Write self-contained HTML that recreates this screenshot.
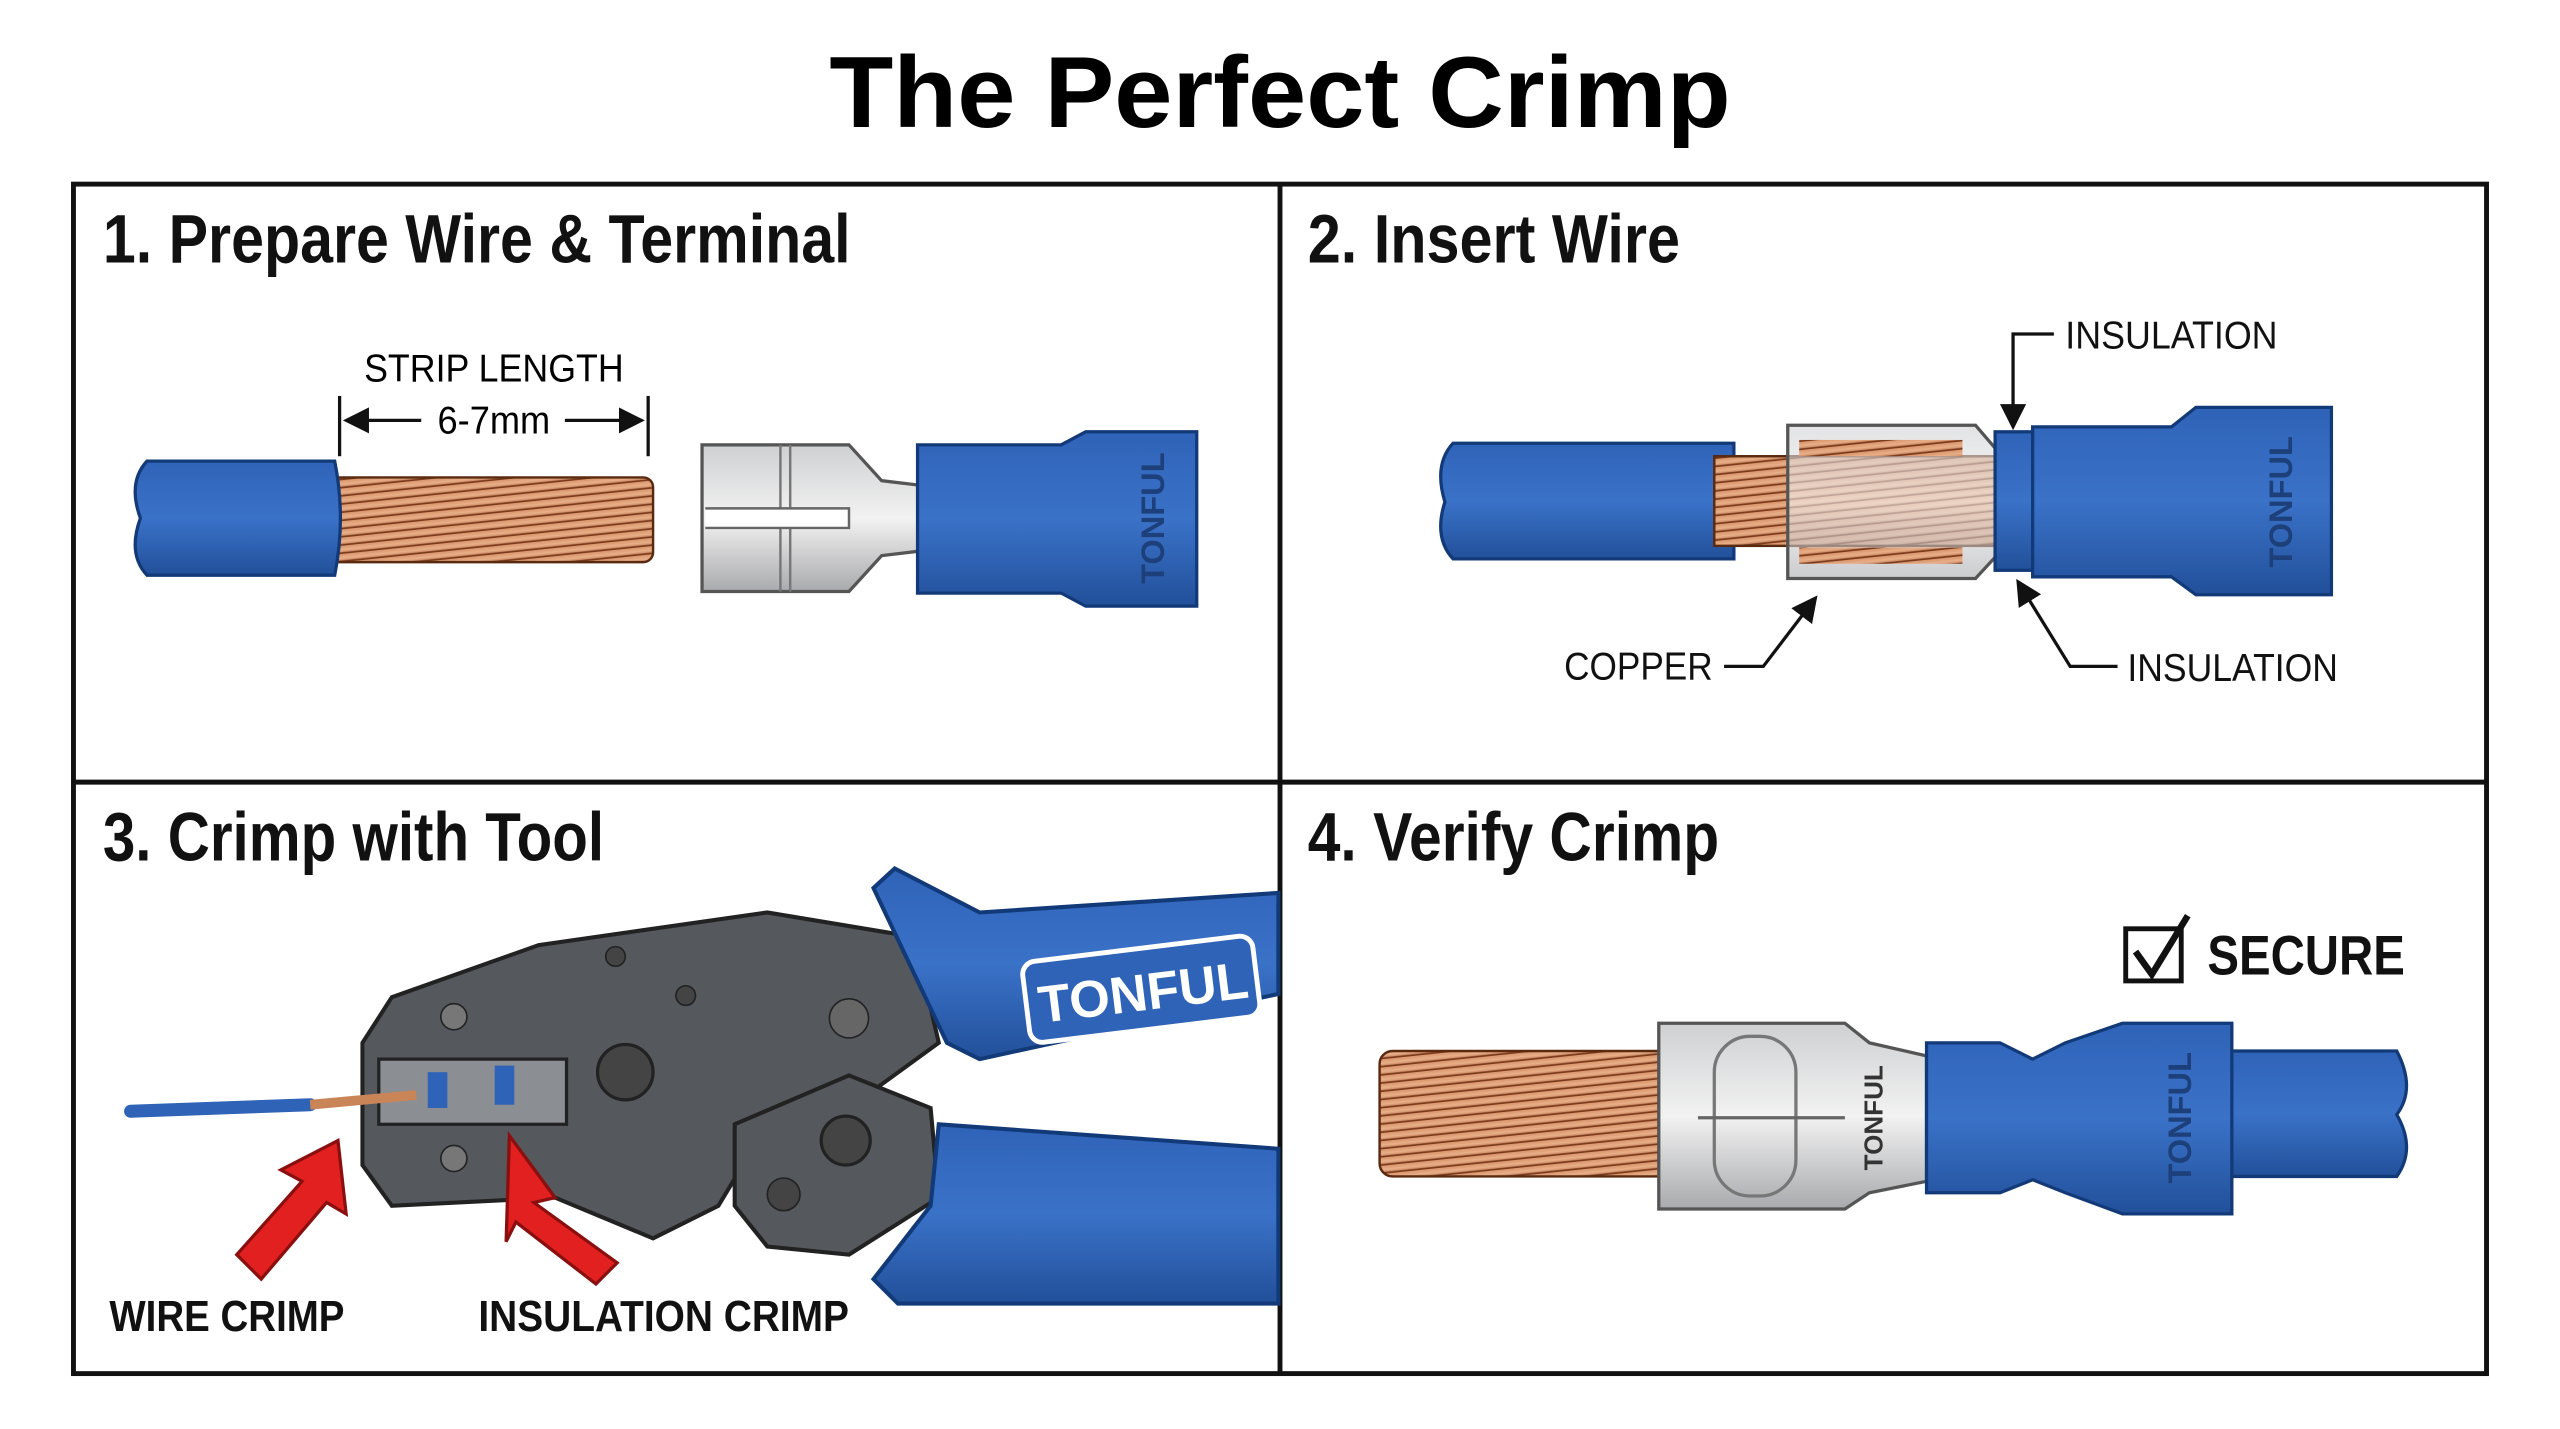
<!DOCTYPE html>
<html><head><meta charset="utf-8"><style>
html,body{margin:0;padding:0;background:#fff;}
svg{display:block;}
text{font-family:"Liberation Sans",sans-serif;}
</style></head><body>
<svg width="2560" height="1429" viewBox="0 0 1568 877" preserveAspectRatio="none" xmlns="http://www.w3.org/2000/svg">
<defs>
<linearGradient id="blue" x1="0" y1="0" x2="0" y2="1"><stop offset="0" stop-color="#2f63b8"/><stop offset="0.5" stop-color="#3a72c8"/><stop offset="1" stop-color="#22509a"/></linearGradient>
<linearGradient id="cu" x1="0" y1="0" x2="0" y2="1"><stop offset="0" stop-color="#d9946a"/><stop offset="0.5" stop-color="#e8b08a"/><stop offset="1" stop-color="#b86e45"/></linearGradient>
<linearGradient id="ag" x1="0" y1="0" x2="0" y2="1"><stop offset="0" stop-color="#cfd0d2"/><stop offset="0.5" stop-color="#f2f2f2"/><stop offset="1" stop-color="#a9aaad"/></linearGradient>
<pattern id="strand" width="16" height="5" patternUnits="userSpaceOnUse" patternTransform="rotate(-6)"><rect width="16" height="5" fill="url(#cu)"/><line x1="0" y1="4.5" x2="16" y2="4.5" stroke="#7a3a1c" stroke-width="1"/></pattern>
<marker id="ah" markerWidth="8" markerHeight="8" refX="7" refY="4" orient="auto"><path d="M0,0 L8,4 L0,8 z" fill="#111"/></marker>
</defs>
<rect width="1568" height="877" fill="#fff"/>
<text x="508" y="78" font-weight="bold" font-size="62" textLength="552" lengthAdjust="spacingAndGlyphs">The Perfect Crimp</text>
<rect x="45" y="113" width="1478" height="730" fill="none" stroke="#111" stroke-width="3"/>
<line x1="784" y1="113" x2="784" y2="843" stroke="#111" stroke-width="3"/>
<line x1="45" y1="480" x2="1523" y2="480" stroke="#111" stroke-width="3"/>
<g font-weight="bold" font-size="42" fill="#111">
<text x="63" y="161" textLength="458" lengthAdjust="spacingAndGlyphs">1. Prepare Wire &amp; Terminal</text>
<text x="801" y="161" textLength="228" lengthAdjust="spacingAndGlyphs">2. Insert Wire</text>
<text x="63" y="528" textLength="307" lengthAdjust="spacingAndGlyphs">3. Crimp with Tool</text>
<text x="801" y="528" textLength="252" lengthAdjust="spacingAndGlyphs">4. Verify Crimp</text>
</g>
<!-- Panel 1 -->
<text x="223" y="234" font-size="24" textLength="159" lengthAdjust="spacingAndGlyphs">STRIP LENGTH</text>
<text x="268" y="266" font-size="24" textLength="69" lengthAdjust="spacingAndGlyphs">6-7mm</text>
<line x1="208" y1="243" x2="208" y2="280" stroke="#111" stroke-width="2"/>
<line x1="397" y1="243" x2="397" y2="280" stroke="#111" stroke-width="2"/>
<line x1="258" y1="258" x2="212" y2="258" stroke="#111" stroke-width="2" marker-end="url(#ah)"/>
<line x1="346" y1="258" x2="393" y2="258" stroke="#111" stroke-width="2" marker-end="url(#ah)"/>
<rect x="200" y="293" width="200" height="52" fill="url(#strand)" stroke="#5a2a10" stroke-width="1.5" rx="6"/>
<path d="M90,283 L205,283 Q212,318 205,353 L90,353 Q78,340 86,318 Q78,296 90,283 z" fill="url(#blue)" stroke="#123a78" stroke-width="2"/>
<path d="M430,273 L520,273 L540,295 L565,298 L565,338 L540,341 L520,363 L430,363 z" fill="url(#ag)" stroke="#555" stroke-width="2"/>
<line x1="478" y1="273" x2="478" y2="363" stroke="#777" stroke-width="1.5"/><line x1="484" y1="273" x2="484" y2="363" stroke="#777" stroke-width="1.5"/>
<path d="M432,312 L520,312 L520,324 L432,324" fill="#fff" stroke="#666" stroke-width="1.5"/>
<path d="M562,273 L650,273 L665,265 L733,265 L733,372 L665,372 L650,364 L562,364 z" fill="url(#blue)" stroke="#123a78" stroke-width="2"/>
<text transform="translate(713,318) rotate(-90)" font-size="20" font-weight="bold" fill="#1d3f7a" text-anchor="middle">TONFUL</text>
<!-- Panel 2 -->
<path d="M890,272 L1062,272 L1062,343 L890,343 Q878,330 885,308 Q878,285 890,272 z" fill="url(#blue)" stroke="#123a78" stroke-width="2"/>
<rect x="1050" y="280" width="175" height="55" fill="url(#strand)" stroke="#5a2a10" stroke-width="1.5"/>
<path d="M1095,261 L1210,261 L1222,275 L1222,342 L1210,355 L1095,355 z" fill="url(#ag)" fill-opacity="0.6" stroke="#555" stroke-width="2"/>
<rect x="1102" y="270" width="100" height="10" fill="url(#strand)"/><rect x="1102" y="336" width="100" height="10" fill="url(#strand)"/>
<rect x="1222" y="265" width="23" height="85" fill="url(#blue)" stroke="#123a78" stroke-width="2"/>
<path d="M1245,262 L1330,262 L1345,250 L1428,250 L1428,365 L1345,365 L1330,354 L1245,354 z" fill="url(#blue)" stroke="#123a78" stroke-width="2"/>
<text transform="translate(1404,308) rotate(-90)" font-size="20" font-weight="bold" fill="#1d3f7a" text-anchor="middle">TONFUL</text>
<g font-size="24" fill="#111">
<text x="1265" y="214" textLength="130" lengthAdjust="spacingAndGlyphs">INSULATION</text>
<text x="958" y="417" textLength="91" lengthAdjust="spacingAndGlyphs">COPPER</text>
<text x="1303" y="418" textLength="129" lengthAdjust="spacingAndGlyphs">INSULATION</text>
</g>
<polyline points="1258,205 1233,205 1233,262" fill="none" stroke="#111" stroke-width="2" marker-end="url(#ah)"/>
<polyline points="1056,409 1080,409 1112,367" fill="none" stroke="#111" stroke-width="2" marker-end="url(#ah)"/>
<polyline points="1297,409 1268,409 1236,357" fill="none" stroke="#111" stroke-width="2" marker-end="url(#ah)"/>
<!-- Panel 3 -->
<path d="M222,640 L240,612 L330,580 L470,560 L560,575 L575,640 L520,680 L470,690 L440,740 L400,760 L340,735 L240,740 L222,715 z" fill="#55585c" stroke="#222" stroke-width="2.5"/>
<path d="M450,690 L520,660 L570,680 L575,735 L520,770 L470,765 L450,740 z" fill="#55585c" stroke="#222" stroke-width="2.5"/>
<path d="M535,545 L548,533 L600,560 L783,548 L783,610 L600,650 L580,640 z" fill="url(#blue)" stroke="#123a78" stroke-width="2.5"/>
<rect x="628" y="582" width="142" height="50" rx="8" fill="#2f63b8" stroke="#fff" stroke-width="3" transform="rotate(-7 700 607)"/>
<text x="700" y="620" font-size="32" font-weight="bold" fill="#fff" text-anchor="middle" transform="rotate(-7 700 607)">TONFUL</text>
<path d="M575,690 L783,705 L783,800 L550,800 L535,785 L570,740 z" fill="url(#blue)" stroke="#123a78" stroke-width="2.5"/>
<rect x="232" y="650" width="115" height="40" fill="#8b8e92" stroke="#222" stroke-width="2"/>
<circle cx="383" cy="658" r="17" fill="#444" stroke="#222" stroke-width="2"/><circle cx="518" cy="700" r="15" fill="#444" stroke="#222" stroke-width="2"/>
<circle cx="480" cy="733" r="10" fill="#444" stroke="#222"/><circle cx="377" cy="587" r="6" fill="#444" stroke="#222"/><circle cx="420" cy="611" r="6" fill="#444" stroke="#222"/>
<circle cx="278" cy="624" r="8" fill="#777" stroke="#222"/><circle cx="278" cy="711" r="8" fill="#777" stroke="#222"/>
<circle cx="520" cy="625" r="12" fill="#666" stroke="#222"/>
<line x1="80" y1="682" x2="190" y2="678" stroke="#2f63b8" stroke-width="8" stroke-linecap="round"/>
<line x1="190" y1="678" x2="255" y2="672" stroke="#c98458" stroke-width="6"/>
<rect x="262" y="658" width="12" height="22" fill="#2f63b8"/><rect x="303" y="654" width="12" height="24" fill="#2f63b8"/>
<path d="M207,700 L212,745 L200,738 L160,785 L145,770 L185,725 L172,718 z" fill="#e32020" stroke="#8a0f0f" stroke-width="2"/>
<path d="M312,697 L340,735 L327,738 L378,775 L365,788 L316,750 L310,762 z" fill="#e32020" stroke="#8a0f0f" stroke-width="2"/>
<g font-size="27" font-weight="bold" fill="#111">
<text x="67" y="817" textLength="144" lengthAdjust="spacingAndGlyphs">WIRE CRIMP</text>
<text x="293" y="817" textLength="227" lengthAdjust="spacingAndGlyphs">INSULATION CRIMP</text>
</g>
<!-- Panel 4 -->
<rect x="1302" y="570" width="34" height="32" fill="none" stroke="#111" stroke-width="3"/>
<path d="M1308,584 L1318,598 L1340,562" fill="none" stroke="#111" stroke-width="4"/>
<text x="1352" y="598" font-size="34" font-weight="bold" fill="#111" textLength="121" lengthAdjust="spacingAndGlyphs">SECURE</text>
<rect x="845" y="645" width="180" height="77" rx="8" fill="url(#strand)" stroke="#5a2a10" stroke-width="1.5"/>
<path d="M1016,628 L1130,628 L1145,640 L1180,648 L1180,725 L1145,732 L1130,742 L1016,742 z" fill="url(#ag)" stroke="#555" stroke-width="2"/>
<rect x="1050" y="636" width="50" height="98" rx="22" fill="none" stroke="#777" stroke-width="2"/>
<line x1="1040" y1="686" x2="1130" y2="686" stroke="#666" stroke-width="2"/>
<text transform="translate(1153,686) rotate(-90)" font-size="16" font-weight="bold" fill="#333" text-anchor="middle">TONFUL</text>
<path d="M1365,645 L1468,645 Q1480,668 1468,684 Q1480,705 1468,722 L1365,722 z" fill="url(#blue)" stroke="#123a78" stroke-width="2"/>
<path d="M1180,640 L1225,640 L1245,650 L1265,640 L1300,628 L1367,628 L1367,745 L1300,745 L1265,732 L1245,724 L1225,732 L1180,732 z" fill="url(#blue)" stroke="#123a78" stroke-width="2"/>
<text transform="translate(1342,686) rotate(-90)" font-size="20" font-weight="bold" fill="#1d3f7a" text-anchor="middle">TONFUL</text>
</svg>
</body></html>
